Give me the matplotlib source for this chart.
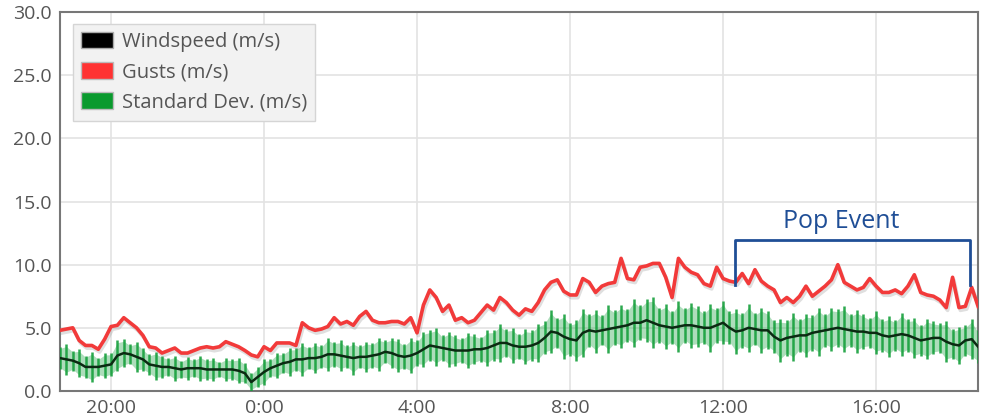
import matplotlib.pyplot as plt
import matplotlib.dates as mdates
import matplotlib.patheffects as pe
from matplotlib.patches import Patch
from matplotlib.ticker import FuncFormatter
import numpy as np
import pandas as pd

# 10 minute samples, 18:40 -> 18:40 next day
times = pd.date_range("2019-03-10 18:40", periods=145, freq="10min")

gusts = [4.8, 4.9, 5.0, 4.0, 3.6, 3.6, 3.3, 4.1, 5.1, 5.2,
         5.8, 5.4, 5.0, 4.4, 3.5, 3.4, 3.0, 3.2, 3.4, 3.0,
         3.0, 3.2, 3.4, 3.5, 3.4, 3.5, 3.9, 3.7, 3.5, 3.2,
         2.85, 2.7, 3.5, 3.2, 3.8, 3.8, 3.8, 3.6, 5.4, 5.0,
         4.8, 4.9, 5.1, 5.8, 5.3, 5.5, 5.2, 5.9, 6.3, 5.6,
         5.4, 5.4, 5.5, 5.5, 5.3, 5.8, 4.6, 6.8, 8.0, 7.4,
         6.3, 6.8, 5.6, 5.8, 5.4, 5.6, 6.2, 6.8, 6.4, 7.4,
         7.0, 6.4, 6.0, 6.5, 6.3, 7.0, 8.0, 8.6, 8.8, 7.9,
         7.6, 7.6, 8.9, 8.6, 7.8, 8.3, 8.5, 8.6, 10.5, 8.9,
         8.8, 9.8, 9.9, 10.1, 10.1, 9.0, 7.4, 10.5, 9.8, 9.4,
         9.2, 8.5, 8.3, 9.8, 8.9, 8.7, 8.6, 9.3, 8.5, 9.6,
         8.7, 8.3, 8.0, 7.0, 7.4, 7.0, 7.5, 8.3, 7.5, 7.9,
         8.3, 8.8, 10.0, 8.6, 8.3, 8.0, 8.2, 8.9, 8.3, 7.8,
         7.8, 8.0, 7.7, 8.3, 9.2, 7.8, 7.6, 7.5, 7.2, 6.6,
         9.0, 6.6, 6.7, 8.2, 6.7]

windspeed = [2.6, 2.5, 2.4, 2.2, 1.9, 1.9, 1.9, 2.0, 2.1, 2.8,
             3.0, 2.9, 2.7, 2.5, 2.1, 2.0, 1.9, 1.9, 1.8, 1.7,
             1.8, 1.8, 1.8, 1.7, 1.7, 1.7, 1.7, 1.7, 1.6, 1.4,
             0.7, 1.1, 1.5, 1.8, 2.0, 2.2, 2.3, 2.5, 2.5, 2.6,
             2.6, 2.7, 2.9, 2.9, 2.8, 2.7, 2.6, 2.7, 2.7, 2.8,
             2.9, 3.1, 3.0, 2.8, 2.7, 2.8, 3.0, 3.3, 3.6, 3.5,
             3.4, 3.3, 3.2, 3.2, 3.2, 3.3, 3.3, 3.4, 3.6, 3.8,
             3.8, 3.6, 3.5, 3.5, 3.6, 3.8, 4.2, 4.7, 4.6, 4.3,
             4.1, 4.0, 4.6, 4.8, 4.7, 4.8, 4.9, 5.0, 5.1, 5.2,
             5.4, 5.4, 5.6, 5.4, 5.2, 5.1, 5.0, 5.1, 5.2, 5.2,
             5.1, 5.0, 5.0, 5.2, 5.4, 5.0, 4.7, 4.8, 5.0, 4.9,
             4.8, 4.8, 4.3, 4.0, 4.2, 4.3, 4.4, 4.4, 4.6, 4.7,
             4.8, 4.9, 5.0, 4.9, 4.8, 4.7, 4.7, 4.6, 4.6, 4.4,
             4.3, 4.4, 4.5, 4.4, 4.2, 4.0, 4.1, 4.2, 4.2, 3.9,
             3.7, 3.6, 4.0, 4.1, 3.5]

std_dev = [0.9, 1.2, 0.8, 1.1, 0.9, 1.2, 0.7, 1.0, 0.9, 1.2,
           1.1, 0.8, 1.2, 0.9, 0.8, 1.1, 0.9, 0.7, 1.0, 0.7,
           0.9, 0.7, 1.0, 0.8, 0.9, 0.6, 0.9, 0.8, 1.0, 0.8,
           0.7, 0.8, 1.0, 0.7, 1.0, 0.8, 1.1, 0.9, 1.3, 0.9,
           1.2, 0.9, 1.3, 1.0, 1.2, 0.9, 1.3, 0.9, 1.2, 1.0,
           1.3, 0.9, 1.2, 1.3, 1.0, 1.4, 1.0, 1.4, 1.2, 1.5,
           1.0, 1.4, 1.2, 1.0, 1.4, 1.2, 1.0, 1.4, 1.2, 1.5,
           1.1, 1.4, 1.0, 1.4, 1.2, 1.5, 1.3, 1.7, 1.2, 1.8,
           1.3, 1.6, 1.9, 1.3, 1.7, 1.2, 1.9, 1.4, 1.7, 1.3,
           1.9, 1.4, 1.7, 2.0, 1.4, 1.8, 1.3, 2.0, 1.4, 1.8,
           1.6, 1.3, 1.9, 1.4, 1.7, 1.3, 1.8, 1.4, 1.9, 1.3,
           1.8, 1.5, 1.3, 1.7, 1.4, 1.9, 1.3, 1.7, 1.4, 1.9,
           1.3, 1.7, 1.5, 1.8, 1.3, 1.7, 1.4, 1.2, 1.7, 1.3,
           1.6, 1.2, 1.7, 1.3, 1.6, 1.2, 1.6, 1.3, 1.2, 1.6,
           1.2, 1.5, 1.2, 1.6, 1.3]

event_label = "Pop Event"
event_start = pd.Timestamp("2019-03-11 12:19")
event_end = pd.Timestamp("2019-03-11 18:27")
event_label_time = pd.Timestamp("2019-03-11 15:05")
event_low = 8.4
event_high = 11.95

wind = np.array(windspeed)
std = np.array(std_dev)

fig = plt.figure(figsize=(9.84, 4.19), dpi=100)
ax = fig.add_axes([0.061, 0.067, 0.933, 0.904])

green = "#16a03c"
# standard deviation band + bars
ax.fill_between(times, wind - std * 0.85, wind + std * 0.85, color=green, alpha=0.35,
                linewidth=0, zorder=2)
ax.errorbar(times, wind, yerr=std, fmt="none", ecolor=green, elinewidth=1.8, alpha=0.9, zorder=3)
ax.plot(times, wind, color="#0b2a12", linewidth=1.8, zorder=4)

ax.plot(times, gusts, color="#f23a3a", linewidth=2.6, zorder=5,
        path_effects=[pe.SimpleLineShadow(offset=(1, -2), shadow_color="gray", alpha=0.25, rho=1),
                      pe.Normal()])

# event bracket
ax.plot([event_start, event_start, event_end, event_end],
        [event_low, event_high, event_high, event_low],
        color="#1f4e96", linewidth=2.0, solid_joinstyle="round", zorder=6)
ax.text(event_label_time, event_high + 0.5, event_label, color="#1f4e96", fontsize=18,
        ha="center", va="bottom", family="Open Sans", zorder=6)

ax.set_xlim(times[0], times[-1])
ax.set_ylim(0, 30)
ax.set_yticks(np.arange(0, 31, 5))
ax.yaxis.set_major_formatter(FuncFormatter(lambda v, p: f"{v:.1f}"))
ax.xaxis.set_major_locator(mdates.HourLocator(byhour=[0, 4, 8, 12, 16, 20]))
ax.xaxis.set_major_formatter(FuncFormatter(
    lambda v, p: f"{mdates.num2date(v).hour}:{mdates.num2date(v).minute:02d}"))

ax.grid(True, color="#e3e3e3", linewidth=1.2, zorder=0)
ax.set_axisbelow(True)
for s in ax.spines.values():
    s.set_color("#777777")
    s.set_linewidth(1.5)
ax.tick_params(length=0, labelsize=14, labelcolor="#555555", pad=6)
for lbl in ax.get_xticklabels() + ax.get_yticklabels():
    lbl.set_family("Open Sans")

handles = [Patch(facecolor="black", edgecolor="#aaaaaa", label="Windspeed (m/s)"),
           Patch(facecolor="#ff3333", edgecolor="#bbbbbb", label="Gusts (m/s)"),
           Patch(facecolor="#0a9a2e", edgecolor="#bbbbbb", label="Standard Dev. (m/s)")]
leg = ax.legend(handles=handles, loc="upper left", bbox_to_anchor=(0.0145, 0.97),
                prop={"family": "Open Sans", "size": 14.5}, labelcolor="#555555",
                frameon=True, fancybox=False, facecolor="#f2f2f2", edgecolor="#d5d5d5",
                handlelength=1.55, handleheight=0.9, labelspacing=0.5,
                handletextpad=0.45, borderpad=0.4, borderaxespad=0)
leg.get_frame().set_linewidth(1.0)
leg.get_frame().set_alpha(1)

fig.savefig("out.png", dpi=100)
